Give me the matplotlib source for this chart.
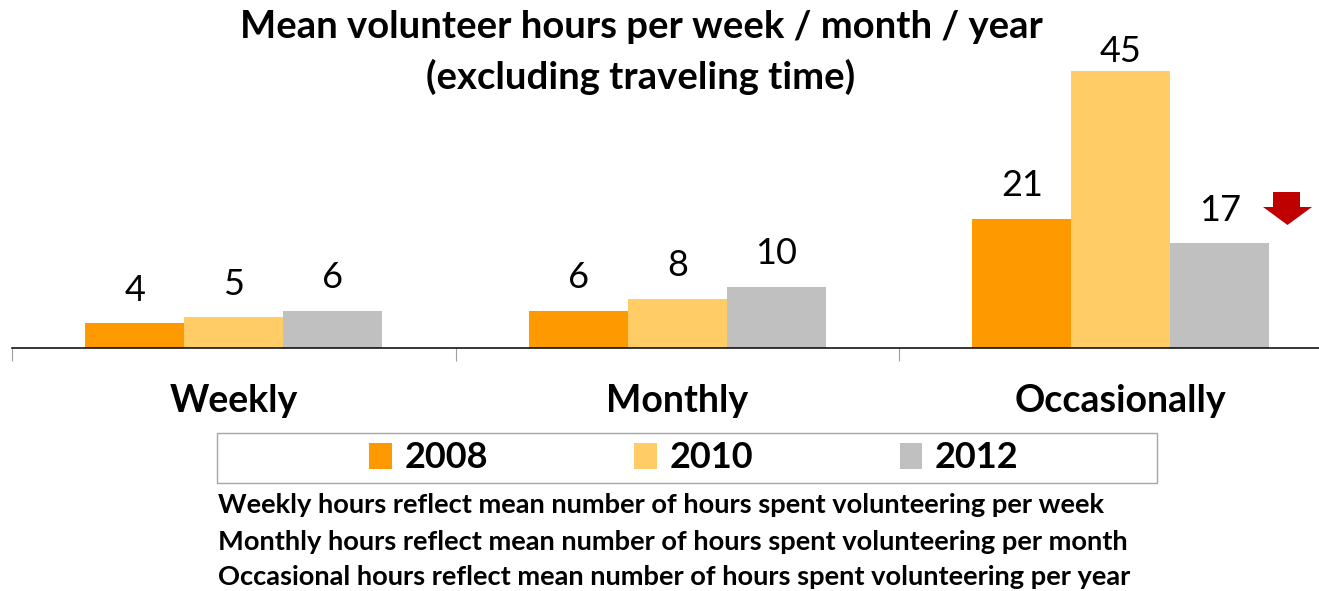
import matplotlib.pyplot as plt
from matplotlib.patches import Rectangle, Polygon
import numpy as np

plt.rcParams['font.family'] = ['Lato', 'DejaVu Sans']

categories = ['Weekly', 'Monthly', 'Occasionally']
years = ['2008', '2010', '2012']
hours_2008 = [4, 6, 21]
hours_2010 = [5, 8, 45]
hours_2012 = [6, 10, 17]
notes = ['Weekly hours reflect mean number of hours spent volunteering per week',
         'Monthly hours reflect mean number of hours spent volunteering per month',
         'Occasional hours reflect mean number of hours spent volunteering per year']

colors = ['#FF9900', '#FFCC66', '#C0C0C0']
W, H = 1319, 591

fig = plt.figure(figsize=(W / 100, H / 100), dpi=100)
# axes runs a bit past the right edge, like the original
ax = fig.add_axes([12 / W, 243 / H, 3 * 443.5 / W, 50 * 6.15 / H])

x = np.arange(len(categories)) + 0.5
bw = 0.223
series = [hours_2008, hours_2010, hours_2012]
for j, vals in enumerate(series):
    pos = x + (j - 1) * bw
    ax.bar(pos, vals, bw, color=colors[j], label=years[j])
    for p, v in zip(pos, vals):
        off = 12 if v < 40 else 2
        ax.annotate(str(v), (p, v), xytext=(0, off), textcoords='offset points',
                    ha='center', va='bottom', fontsize=26)

ax.set_xlim(0, 3)
ax.set_ylim(0, 50)
for s in ['top', 'right', 'left']:
    ax.spines[s].set_visible(False)
ax.spines['bottom'].set_linewidth(1.1)
ax.set_yticks([])
ax.set_xticks([0, 1, 2, 3])
ax.set_xticklabels([])
ax.tick_params(axis='x', which='major', length=9.5, width=0.8, color='#A0A0A0', direction='out')
ax.set_xticks(x, minor=True)
ax.set_xticklabels(categories, minor=True, fontsize=27, fontweight='bold')
ax.tick_params(axis='x', which='minor', length=0, pad=26)

fig.text(641 / W, 1 - 27 / H, 'Mean volunteer hours per week / month / year',
         ha='center', va='center', fontsize=27.5, fontweight='bold')
fig.text(641 / W, 1 - 77 / H, '(excluding traveling time)',
         ha='center', va='center', fontsize=27.5, fontweight='bold')

# legend with its own frame
fig.patches.append(Rectangle((217 / W, 1 - 483 / H), 940 / W, 50 / H,
                             transform=fig.transFigure, fill=False,
                             edgecolor='#A6A6A6', linewidth=1))
leg = fig.legend(loc='center', bbox_to_anchor=(694 / W, 1 - 458 / H), ncol=3,
                 frameon=False, handlelength=0.62, handleheight=0.7,
                 handletextpad=0.36, columnspacing=4.05,
                 prop={'size': 26, 'weight': 'bold'})

for i, t in enumerate(notes):
    fig.text(218 / W, 1 - [505, 542, 577][i] / H, t, ha='left', va='center',
             fontsize=19.6, fontweight='bold')

# red down arrow next to the 2012 occasional bar
pts = [(1273, 192), (1300, 192), (1300, 207), (1312, 207), (1287.5, 225),
       (1263, 207), (1273, 207)]
fig.patches.append(Polygon([(px / W, 1 - py / H) for px, py in pts],
                           closed=True, transform=fig.transFigure,
                           facecolor='#C00000', edgecolor='none'))

fig.savefig('out.png', dpi=100)
